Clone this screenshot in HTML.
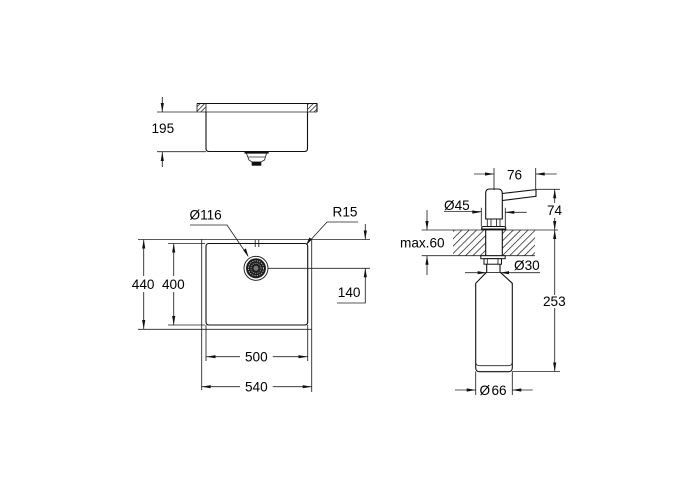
<!DOCTYPE html>
<html><head><meta charset="utf-8"><style>
html,body{margin:0;padding:0;background:#fff}
svg{display:block}
text{font-family:"Liberation Sans",sans-serif;font-size:13.6px;fill:#000}
.l{fill:none;stroke:#222;stroke-width:.85}
.t{fill:none;stroke:#111;stroke-width:1.1}
.h{fill:none;stroke:#333;stroke-width:.7}
.a{fill:#111;stroke:none}
</style></head><body>
<svg width="700" height="500" viewBox="0 0 700 500" xmlns="http://www.w3.org/2000/svg">
<defs>
<pattern id="h1" width="3.2" height="3.2" patternUnits="userSpaceOnUse" patternTransform="rotate(45)"><rect width="3.2" height="3.2" fill="#fff"/><line x1="0" y1="0" x2="0" y2="3.2" stroke="#222" stroke-width="1.5"/></pattern>
<pattern id="h2" width="5.2" height="5.2" patternUnits="userSpaceOnUse" patternTransform="rotate(45)"><line x1="0" y1="0" x2="0" y2="5.2" stroke="#222" stroke-width="1.5"/></pattern>
</defs>

<!-- side view sink -->
<rect x="197" y="103.5" width="9" height="8.5" fill="url(#h1)"/>
<rect x="307.5" y="103.5" width="9.5" height="8.5" fill="url(#h1)"/>
<path class="t" d="M197 103.5H317V112"/>
<path class="l" d="M197 103.5V112M206 103.500V112M307.500 103.500V112"/>
<path class="l" d="M157 112H317"/>
<path class="t" d="M206 112V148.500q0 3 3 3H304.500q3 0 3-3V112"/>
<path class="l" d="M157 151.700H206"/>
<path class="l" d="M162.300 97V112M162.300 152V167"/>
<path class="a" d="M162.300 112l-1.600-9h3.200zM162.300 152l-1.600 9h3.200z"/>
<text x="151.500" y="133">195</text>
<!-- drain side -->
<path d="M244.500 152H268.700V153.600H244.500z" fill="#111"/>
<path class="l" d="M246.500 153.600L249 160L252 162H261L264.500 160L266.500 153.600"/>
<path class="h" d="M248 157H265.500"/>
<rect x="251.700" y="161.700" width="9.600" height="4" fill="#111"/>

<!-- plan view -->
<path class="l" d="M138 239.500H370"/>
<path class="l" d="M138 329.300H312"/>
<path class="l" d="M168 243.500H205M168 325H205"/>
<path class="t" d="M206 246.500q0-3 3-3H304.700q3 0 3 3V322q0 3-3 3H209q-3 0-3-3z"/>
<path class="l" d="M201.700 239V390M311.700 239.500V392"/>
<path class="l" d="M206 325V361M307.700 325V361"/>
<path class="l" d="M255.200 240V247M258.800 240V247"/>
<!-- 440 / 400 -->
<path class="l" d="M143.700 239.500V276M143.700 292V329"/>
<path class="a" d="M143.700 239.500l-1.600 9h3.200zM143.700 329l-1.600-9h3.200z"/>
<path class="l" d="M173.700 243.500V276M173.700 292V325"/>
<path class="a" d="M173.700 243.500l-1.600 9h3.200zM173.700 325l-1.600-9h3.200z"/>
<text x="131.800" y="289">440</text>
<text x="162" y="289">400</text>
<!-- 500 / 540 -->
<path class="l" d="M206.500 356.700H240M272.700 356.700H307.500"/>
<path class="a" d="M206.500 356.700l9-1.600v3.200zM307.500 356.700l-9-1.600v3.200z"/>
<text x="245" y="361.500">500</text>
<path class="l" d="M201.700 386.700H240M272.700 386.700H311.700"/>
<path class="a" d="M201.700 386.700l9-1.600v3.200zM311.700 386.700l-9-1.600v3.200z"/>
<text x="245" y="391.500">540</text>
<!-- Ø116 -->
<text x="189.500" y="219.500">Ø116</text>
<path class="l" d="M190 225H227L248 256"/>
<path class="a" d="M248.500 257l-5.200-6.800 2.600-1.800z"/>
<!-- drain -->
<circle cx="256" cy="268.300" r="12" fill="#fff" stroke="#111" stroke-width=".9"/>
<circle cx="256" cy="268.300" r="10" fill="#1c1c1c"/>
<circle cx="256" cy="268.300" r="7.500" fill="none" stroke="#bbb" stroke-width="1" stroke-dasharray="1.200 1.200"/>
<circle cx="256" cy="268.300" r="5" fill="none" stroke="#999" stroke-width="1" stroke-dasharray="1 1"/>
<circle cx="256" cy="268.300" r="2.500" fill="#777"/>
<path class="l" d="M268 268.300H370"/>
<!-- R15 -->
<text x="332.500" y="216.500">R15</text>
<path class="l" d="M358 222H327L306.500 244.500"/>
<path class="a" d="M306 245l3.500-7.600 2.400 2.100z"/>
<!-- 140 -->
<path class="l" d="M365.300 224V239.500M365.300 268.300V303H337"/>
<path class="a" d="M365.300 239.500l-1.600-9h3.200zM365.300 268.300l-1.600 9h3.200z"/>
<text x="337.800" y="296.800">140</text>

<!-- dispenser: countertop -->
<rect x="453" y="230" width="33" height="25.700" fill="url(#h2)"/>
<rect x="502" y="230" width="33" height="25.700" fill="url(#h2)"/>
<path class="l" d="M421.700 230H558M421.700 255.700H535"/>
<path class="t" d="M485.700 230V255.700M502.300 230V255.700"/>
<!-- head -->
<path class="t" d="M485.700 219V193q0-4 4-4H498q4 0 4.300 4V219z"/>
<path class="t" d="M502.300 193.500L536 189.600V196.300L502.300 200.500"/>
<path class="l" d="M487.300 219V226.500M500 219V226.500M491 219V226.500M496.500 219V226.500"/>
<path class="t" d="M481.700 230V228q0-1.500 2-1.500H503.700q2 0 2 1.500V230"/>
<rect x="481.700" y="228.500" width="24" height="1.700" fill="#111"/>
<!-- under counter -->
<rect x="480.800" y="255.700" width="24.400" height="3" fill="#fff" stroke="#111" stroke-width="1"/>
<rect x="484" y="258.700" width="17.500" height="5.500" fill="#fff" stroke="#111" stroke-width="1"/>
<path class="l" d="M487.300 258.700V264M498 258.700V264"/>
<!-- bottle -->
<path class="t" d="M486.700 264.200V272L475.700 283.300V367.700q0 4 4 4H508.300q4 0 4-4V283.300L500 272V264.200"/>
<path class="l" d="M486.700 272.500H500"/>
<path class="l" d="M475.700 363q1 2.700 4 2.700H508.300q3 0 4-2.700"/>
<!-- 76 -->
<path class="l" d="M474 174H494M535.700 174H556.700M494 168V190M535.700 168V190M536 189.300H560"/>
<path class="a" d="M494 174l-9-1.600v3.200zM535.700 174l9-1.600v3.200z"/>
<text x="507" y="179.500">76</text>
<!-- 74 / 253 -->
<path class="l" d="M554.700 189.300V203M554.700 218V295M554.700 308V371.500"/>
<path class="a" d="M554.700 189.300l-1.600 9h3.200zM554.700 230l-1.600-9h3.200zM554.700 230l-1.600 9h3.200zM554.700 371.500l-1.600-9h3.200z"/>
<text x="547" y="215">74</text>
<text x="543" y="306">253</text>
<path class="l" d="M512.300 371.500H560"/>
<!-- Ø45 -->
<text x="444" y="210">Ø45</text>
<path class="l" d="M444 211.500H481.300M505 212.300H526.700M481.300 207.700V226.500M505.300 207.700V226.500"/>
<path class="a" d="M481.300 212l-9-1.600v3.200zM505.300 212.300l9-1.600v3.200z"/>
<!-- max.60 -->
<text x="400" y="247.700">max.60</text>
<path class="l" d="M427 210V230M427 255.700V275"/>
<path class="a" d="M427 230l-1.600-9h3.200zM427 255.700l-1.600 9h3.200z"/>
<!-- Ø30 -->
<text x="514" y="270">Ø30</text>
<path class="l" d="M465 272.700H486.700M500 272.700H540"/>
<path class="a" d="M486.700 272.700l-9-1.600v3.200zM500 272.700l9-1.600v3.200z"/>
<!-- Ø66 -->
<path class="l" d="M475.700 371.500V395M512.300 371.500V395M455 390H475.700M512.300 390H532.700"/>
<path class="a" d="M475.700 390l-9-1.600v3.200zM512.300 390l9-1.600v3.200z"/>
<text x="479.500" y="395">Ø</text><text x="491.500" y="395">66</text>
</svg>
</body></html>
